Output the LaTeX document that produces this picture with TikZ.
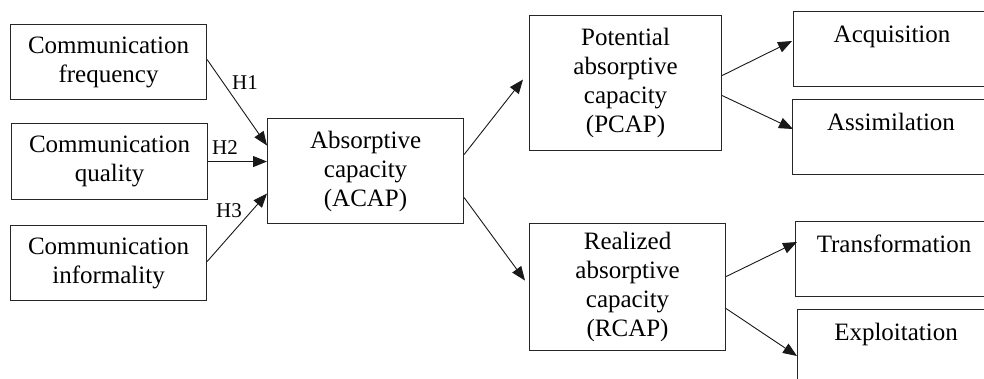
\documentclass[tikz,border=0pt]{standalone}
\usepackage{fontspec}
\setmainfont{Liberation Serif}
\usetikzlibrary{arrows.meta,calc}
\begin{document}
\begin{tikzpicture}[x=1pt,y=-1pt,
  box/.style={draw=black!85, line width=1.1pt, inner sep=0pt, align=center,
    font=\fontsize{25}{29}\selectfont, anchor=north west},
  rbox/.style={box, minimum width=197pt, text height=31pt, text depth=44pt},
  lbl/.style={font=\fontsize{21}{24}\selectfont, inner sep=0pt},
  arr/.style={-{Triangle[length=14pt,width=11pt]}, line width=0.9pt, black!90}]
\clip (0,0) rectangle (984,379);
\fill[white] (0,0) rectangle (984,379);
% left boxes
\node[box, minimum width=196pt, minimum height=75pt] (freq) at (10,24) {Communication\\frequency};
\node[box, minimum width=196pt, minimum height=76pt] (qual) at (11,123) {Communication\\quality};
\node[box, minimum width=196pt, minimum height=75pt] (info) at (10,225) {Communication\\informality};
% middle
\node[box, minimum width=196pt, minimum height=105pt] (acap) at (267,118) {Absorptive\\capacity\\(ACAP)};
\node[box, minimum width=192pt, minimum height=135pt] (pcap) at (529,15) {Potential\\absorptive\\capacity\\(PCAP)};
\node[box, minimum width=196pt, minimum height=127pt] (rcap) at (529,223) {Realized\\absorptive\\capacity\\(RCAP)};
% right boxes
\node[rbox] (acq) at (793,11) {Acquisition};
\node[rbox] (assim) at (792,99) {Assimilation};
\node[rbox] (trans) at (795,221) {Transformation};
\node[rbox] (expl) at (797,309) {Exploitation};
% labels
\node[lbl] (h1) at (245,83) {H1};
\node[lbl] (h2) at (225,148) {H2};
\node[lbl] (h3) at (229,211) {H3};
% arrows
\draw[arr] ($(freq.east)+(0,-2.5)$) -- ($(acap.west)+(0,-25.5)$);
\draw[arr] (qual.east) -- (acap.west |- qual.east);
\draw[arr] ($(info.east)+(0,-1.5)$) -- ($(acap.west)+(0,22.5)$);
\draw[arr] ($(acap.east)+(0,-16.5)$) -- ($(pcap.west)+(-6,-3.5)$);
\draw[arr] ($(acap.east)+(0,26.5)$) -- ($(rcap.west)+(-4,-6.5)$);
\draw[arr] ($(pcap.east)+(0,-7.5)$) -- ($(acq.north west)+(-1,30)$);
\draw[arr] ($(pcap.east)+(0,12.5)$) -- ($(assim.north west)+(1,30)$);
\draw[arr] ($(rcap.east)+(0,-10.5)$) -- ($(trans.north west)+(2,21)$);
\draw[arr] ($(rcap.east)+(0,21.5)$) -- ($(expl.north west)+(0,47)$);
\end{tikzpicture}
\end{document}
